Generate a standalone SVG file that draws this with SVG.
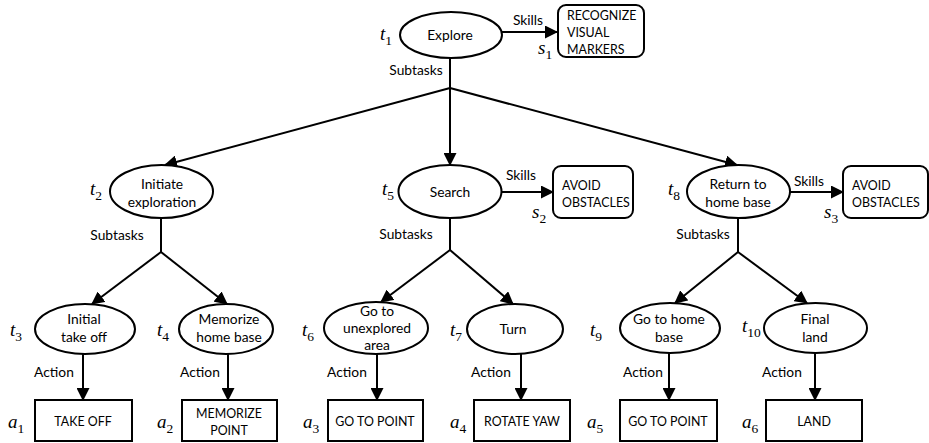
<svg xmlns="http://www.w3.org/2000/svg" width="929" height="443" viewBox="0 0 929 443">
<defs>
<marker id="ah" markerUnits="userSpaceOnUse" markerWidth="13" markerHeight="13" refX="12" refY="6.5" orient="auto">
<path d="M0,0 L13,6.5 L0,13 z" fill="#000"/>
</marker>
<style>
.n{fill:#fff;stroke:#000;stroke-width:2}
.c{fill:none;stroke:#000;stroke-width:2}
.a{marker-end:url(#ah)}
text{font-family:Lato,"Open Sans","Liberation Sans",sans-serif;font-size:13.8px;fill:#000}
.k{font-size:12.4px}
.m{text-anchor:middle}
.v{font-family:"Liberation Serif","DejaVu Serif",serif;font-size:19px;font-style:italic}
.v tspan{font-size:13.5px;font-style:normal}
</style>
</defs>
<rect width="929" height="443" fill="#fff"/>
<g id="connectors">
<line class="c a" x1="502" y1="32" x2="557" y2="32"/>
<line class="c" x1="450" y1="58" x2="450" y2="88"/>
<line class="c a" x1="450" y1="88" x2="165" y2="165"/>
<line class="c a" x1="450" y1="88" x2="450" y2="165"/>
<line class="c a" x1="450" y1="88" x2="737" y2="165"/>
<line class="c a" x1="502" y1="192" x2="553" y2="192"/>
<line class="c a" x1="790" y1="192" x2="843" y2="192"/>
<line class="c" x1="161" y1="218" x2="161" y2="252"/>
<line class="c a" x1="161" y1="252" x2="92" y2="304"/>
<line class="c a" x1="161" y1="252" x2="227" y2="304"/>
<line class="c" x1="450" y1="218" x2="450" y2="250"/>
<line class="c a" x1="450" y1="250" x2="381" y2="302"/>
<line class="c a" x1="450" y1="250" x2="513" y2="304"/>
<line class="c" x1="738" y1="218" x2="738" y2="252"/>
<line class="c a" x1="738" y1="252" x2="675" y2="303"/>
<line class="c a" x1="738" y1="252" x2="807" y2="303"/>
<line class="c a" x1="83" y1="354" x2="83" y2="400"/>
<line class="c a" x1="228" y1="354" x2="228" y2="400"/>
<line class="c a" x1="377" y1="354" x2="377" y2="400"/>
<line class="c a" x1="521" y1="354" x2="521" y2="400"/>
<line class="c a" x1="669" y1="353" x2="669" y2="400"/>
<line class="c a" x1="815" y1="353" x2="815" y2="400"/>
<text class="m" x="528" y="25">Skills</text>
<text class="m" x="416" y="75">Subtasks</text>
<text class="m" x="521" y="180">Skills</text>
<text class="m" x="809" y="186">Skills</text>
<text class="m" x="117" y="240">Subtasks</text>
<text class="m" x="406" y="239">Subtasks</text>
<text class="m" x="703" y="239">Subtasks</text>
<text class="m" x="54" y="377">Action</text>
<text class="m" x="200" y="377">Action</text>
<text class="m" x="347" y="377">Action</text>
<text class="m" x="491" y="377">Action</text>
<text class="m" x="643" y="377">Action</text>
<text class="m" x="782" y="377">Action</text>
</g>
<g id="t1">
<ellipse class="n" cx="451" cy="35" rx="51" ry="23"/>
<text class="m" x="450" y="40">Explore</text>
<text class="v" x="380" y="40">t<tspan dy="5">1</tspan></text>
</g>
<g id="s1">
<rect class="n" x="558" y="5" width="86" height="52" rx="8"/>
<text class="k" x="567" y="20">RECOGNIZE</text>
<text class="k" x="567" y="37">VISUAL</text>
<text class="k" x="567" y="54">MARKERS</text>
<text class="v" x="538" y="54">s<tspan dy="5">1</tspan></text>
</g>
<g id="t2">
<ellipse class="n" cx="161.5" cy="191.5" rx="51.5" ry="26.5"/>
<text class="m" x="162" y="189">Initiate</text>
<text class="m" x="162" y="207">exploration</text>
<text class="v" x="90" y="195">t<tspan dy="5">2</tspan></text>
</g>
<g id="t5">
<ellipse class="n" cx="450" cy="191.5" rx="51.5" ry="26.5"/>
<text class="m" x="450" y="197">Search</text>
<text class="v" x="382" y="195">t<tspan dy="5">5</tspan></text>
</g>
<g id="s2">
<rect class="n" x="553" y="166" width="80" height="52" rx="8"/>
<text class="k" x="562" y="190">AVOID</text>
<text class="k" x="562" y="207">OBSTACLES</text>
<text class="v" x="532" y="218">s<tspan dy="5">2</tspan></text>
</g>
<g id="t8">
<ellipse class="n" cx="738.5" cy="191.5" rx="51.5" ry="26.5"/>
<text class="m" x="738" y="189">Return to</text>
<text class="m" x="738" y="207">home base</text>
<text class="v" x="668" y="195">t<tspan dy="5">8</tspan></text>
</g>
<g id="s3">
<rect class="n" x="843" y="166" width="85" height="52" rx="8"/>
<text class="k" x="852" y="190">AVOID</text>
<text class="k" x="852" y="207">OBSTACLES</text>
<text class="v" x="824" y="218">s<tspan dy="5">3</tspan></text>
</g>
<g id="t3">
<ellipse class="n" cx="85" cy="329" rx="50" ry="25"/>
<text class="m" x="84" y="324">Initial</text>
<text class="m" x="84" y="342">take off</text>
<text class="v" x="10" y="336">t<tspan dy="5">3</tspan></text>
</g>
<g id="t4">
<ellipse class="n" cx="226" cy="329" rx="47" ry="25"/>
<text class="m" x="229" y="324">Memorize</text>
<text class="m" x="229" y="342">home base</text>
<text class="v" x="157" y="336">t<tspan dy="5">4</tspan></text>
</g>
<g id="t6">
<ellipse class="n" cx="376" cy="328" rx="52" ry="26"/>
<text class="m" x="377" y="316">Go to</text>
<text class="m" x="377" y="333">unexplored</text>
<text class="m" x="377" y="350">area</text>
<text class="v" x="302" y="336">t<tspan dy="5">6</tspan></text>
</g>
<g id="t7">
<ellipse class="n" cx="515" cy="329" rx="48" ry="25"/>
<text class="m" x="513" y="334">Turn</text>
<text class="v" x="450" y="336">t<tspan dy="5">7</tspan></text>
</g>
<g id="t9">
<ellipse class="n" cx="670" cy="328" rx="50" ry="25"/>
<text class="m" x="669" y="324">Go to home</text>
<text class="m" x="669" y="342">base</text>
<text class="v" x="590" y="336">t<tspan dy="5">9</tspan></text>
</g>
<g id="t10">
<ellipse class="n" cx="815.5" cy="328" rx="51.5" ry="25"/>
<text class="m" x="815" y="324">Final</text>
<text class="m" x="815" y="342">land</text>
<text class="v" x="742" y="332">t<tspan dy="5">10</tspan></text>
</g>
<g id="a1">
<rect class="n" x="35" y="400" width="97" height="41"/>
<text class="m k" x="83" y="426">TAKE OFF</text>
<text class="v" x="8" y="428">a<tspan dy="5">1</tspan></text>
</g>
<g id="a2">
<rect class="n" x="182" y="400" width="95" height="41"/>
<text class="m k" x="229" y="418">MEMORIZE</text>
<text class="m k" x="229" y="435">POINT</text>
<text class="v" x="157" y="428">a<tspan dy="5">2</tspan></text>
</g>
<g id="a3">
<rect class="n" x="328" y="400" width="95" height="41"/>
<text class="m k" x="375" y="426">GO TO POINT</text>
<text class="v" x="303" y="428">a<tspan dy="5">3</tspan></text>
</g>
<g id="a4">
<rect class="n" x="474" y="400" width="96" height="41"/>
<text class="m k" x="522" y="426">ROTATE YAW</text>
<text class="v" x="450" y="428">a<tspan dy="5">4</tspan></text>
</g>
<g id="a5">
<rect class="n" x="620" y="400" width="97" height="41"/>
<text class="m k" x="668" y="426">GO TO POINT</text>
<text class="v" x="587" y="428">a<tspan dy="5">5</tspan></text>
</g>
<g id="a6">
<rect class="n" x="766" y="400" width="96" height="41"/>
<text class="m k" x="814" y="426">LAND</text>
<text class="v" x="742" y="428">a<tspan dy="5">6</tspan></text>
</g>
</svg>
